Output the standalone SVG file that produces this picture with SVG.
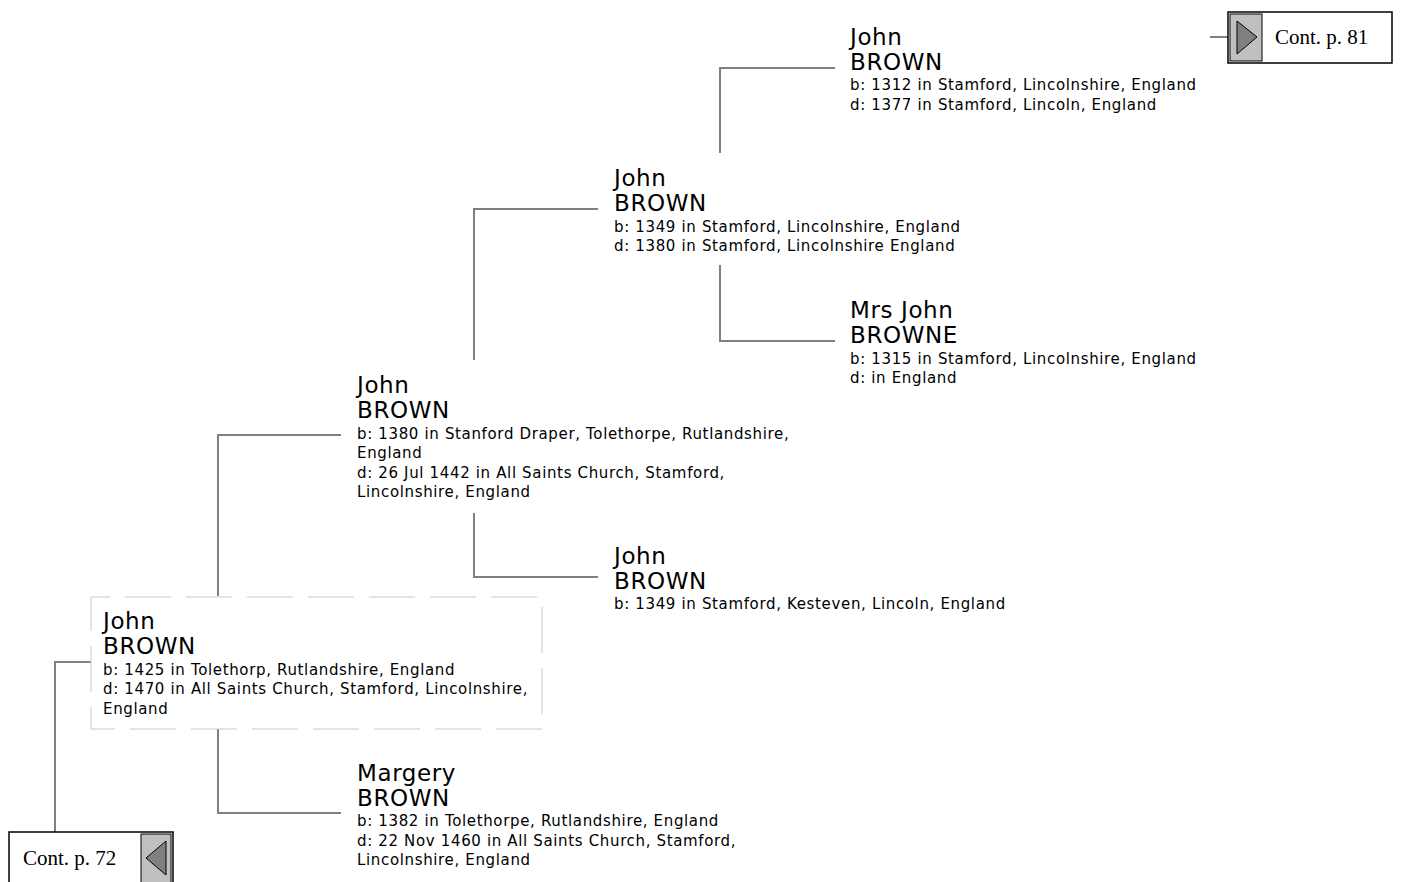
<svg xmlns="http://www.w3.org/2000/svg" width="1401" height="882" viewBox="0 0 1401 882">
<style>
.nm{font-family:"DejaVu Sans",sans-serif;font-size:23px;letter-spacing:0.6px;fill:#000}
.dt{font-family:"DejaVu Sans",sans-serif;font-size:15px;letter-spacing:0.65px;fill:#000}
.cn{fill:none;stroke:#808080;stroke-width:2}
.ct{font-family:"Liberation Serif",serif;font-size:21px;fill:#000}
</style>
<rect width="1401" height="882" fill="#fff"/>
<g id="connectors">
<path class="cn" d="M720,153V68H835"/>
<path class="cn" d="M474,360V209H598"/>
<path class="cn" d="M720,265V341H835"/>
<path class="cn" d="M218,596V435H341"/>
<path class="cn" d="M474,513V577H598"/>
<path class="cn" d="M91,662H55V832"/>
<path class="cn" d="M218,729V813H341"/>
<path class="cn" d="M1210,37H1228"/>
</g>
<g id="n1">
<text class="nm" x="850" y="45">John</text>
<text class="nm" x="850" y="70">BROWN</text>
<text class="dt" x="850" y="90">b: 1312 in Stamford, Lincolnshire, England</text>
<text class="dt" x="850" y="110">d: 1377 in Stamford, Lincoln, England</text>
</g>
<g id="n2">
<text class="nm" x="614" y="186">John</text>
<text class="nm" x="614" y="211">BROWN</text>
<text class="dt" x="614" y="232">b: 1349 in Stamford, Lincolnshire, England</text>
<text class="dt" x="614" y="251">d: 1380 in Stamford, Lincolnshire England</text>
</g>
<g id="n3">
<text class="nm" x="850" y="318">Mrs John</text>
<text class="nm" x="850" y="343">BROWNE</text>
<text class="dt" x="850" y="364">b: 1315 in Stamford, Lincolnshire, England</text>
<text class="dt" x="850" y="383">d: in England</text>
</g>
<g id="n4">
<text class="nm" x="357" y="393">John</text>
<text class="nm" x="357" y="418">BROWN</text>
<text class="dt" x="357" y="439">b: 1380 in Stanford Draper, Tolethorpe, Rutlandshire,</text>
<text class="dt" x="357" y="458">England</text>
<text class="dt" x="357" y="478">d: 26 Jul 1442 in All Saints Church, Stamford,</text>
<text class="dt" x="357" y="497">Lincolnshire, England</text>
</g>
<g id="n5">
<text class="nm" x="614" y="564">John</text>
<text class="nm" x="614" y="589">BROWN</text>
<text class="dt" x="614" y="609">b: 1349 in Stamford, Kesteven, Lincoln, England</text>
</g>
<g id="n6">
<rect x="91" y="597" width="451" height="132" fill="none" stroke="#c8c8c8" stroke-width="1" stroke-dasharray="46,15" stroke-dashoffset="27"/>
<text class="nm" x="103" y="629">John</text>
<text class="nm" x="103" y="654">BROWN</text>
<text class="dt" x="103" y="675">b: 1425 in Tolethorp, Rutlandshire, England</text>
<text class="dt" x="103" y="694">d: 1470 in All Saints Church, Stamford, Lincolnshire,</text>
<text class="dt" x="103" y="714">England</text>
</g>
<g id="n7">
<text class="nm" x="357" y="781">Margery</text>
<text class="nm" x="357" y="806">BROWN</text>
<text class="dt" x="357" y="826">b: 1382 in Tolethorpe, Rutlandshire, England</text>
<text class="dt" x="357" y="846">d: 22 Nov 1460 in All Saints Church, Stamford,</text>
<text class="dt" x="357" y="865">Lincolnshire, England</text>
</g>
<g id="cont81">
<rect x="1228" y="12" width="164" height="51" fill="#fff" stroke="#000" stroke-width="1.5"/>
<rect x="1230" y="14" width="32" height="47" fill="#c0c0c0" stroke="#000" stroke-width="1"/>
<polygon points="1237,21 1257,37 1237,54" fill="#808080" stroke="#000" stroke-width="1"/>
<text class="ct" x="1275" y="44">Cont. p. 81</text>
</g>
<g id="cont72">
<rect x="9" y="832" width="164" height="60" fill="#fff" stroke="#000" stroke-width="1.5"/>
<rect x="141" y="834" width="30" height="56" fill="#c0c0c0" stroke="#000" stroke-width="1"/>
<polygon points="166,841 146,858 166,875" fill="#808080" stroke="#000" stroke-width="1"/>
<text class="ct" x="23" y="865">Cont. p. 72</text>
</g>
</svg>
